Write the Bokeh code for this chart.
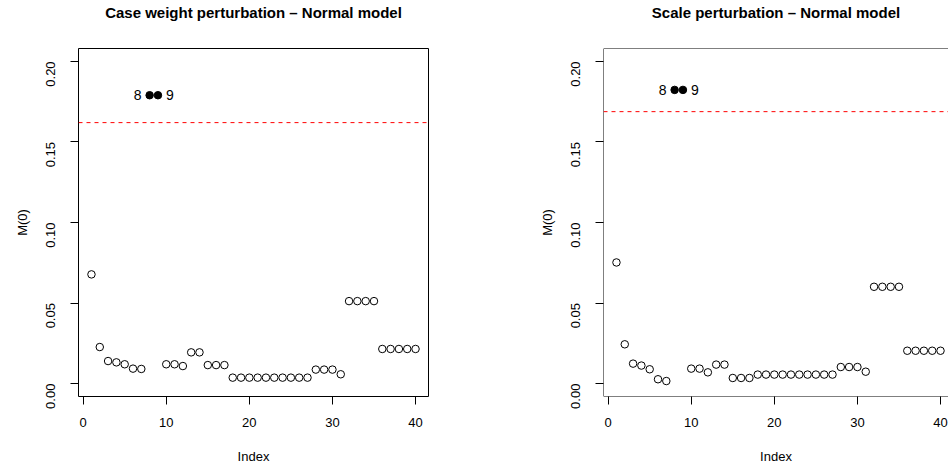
import math
from bokeh.plotting import figure
from bokeh.layouts import row
from bokeh.models import Span, Range1d, FixedTicker, NumeralTickFormatter, ColumnDataSource
from bokeh.core.properties import value
from bokeh.embed import file_html
from bokeh.resources import INLINE

# ---- data ----
index = list(range(1, 41))
case_weight = [0.0678, 0.0227, 0.0140, 0.0132, 0.0120, 0.0093, 0.0091, 0.179, 0.179, 0.0120,
               0.0120, 0.0109, 0.0194, 0.0194, 0.0115, 0.0115, 0.0115, 0.0037, 0.0037, 0.0037,
               0.0037, 0.0037, 0.0037, 0.0037, 0.0037, 0.0037, 0.0037, 0.0087, 0.0087, 0.0087,
               0.0058, 0.0512, 0.0512, 0.0512, 0.0512, 0.0215, 0.0215, 0.0215, 0.0215, 0.0215]
scale_pert = [0.0752, 0.0244, 0.0124, 0.0112, 0.0089, 0.0027, 0.0016, 0.1823, 0.1823, 0.0093,
              0.0093, 0.0070, 0.0118, 0.0118, 0.0035, 0.0035, 0.0035, 0.0056, 0.0056, 0.0056,
              0.0056, 0.0056, 0.0056, 0.0056, 0.0056, 0.0056, 0.0056, 0.0103, 0.0103, 0.0103,
              0.0074, 0.0601, 0.0601, 0.0601, 0.0601, 0.0204, 0.0204, 0.0204, 0.0204, 0.0204]
highlight_idx = [8, 9]
highlight_labels = ["8", "9"]
cutoff_case = 0.162
cutoff_scale = 0.1688
titles = ["Case weight perturbation \u2013 Normal model", "Scale perturbation \u2013 Normal model"]
x_ticks = [0, 10, 20, 30, 40]
y_ticks = [0.0, 0.05, 0.10, 0.15, 0.20]

FONT = "Liberation Sans"
Y0, Y1 = -0.008, 0.208


def make_panel(vals, cutoff, title, width, mbl, mbr, x_end, title_offset=0, box_outline=True):
    p = figure(width=width, height=470, output_backend="svg", toolbar_location=None,
               x_range=Range1d(-0.56, x_end), y_range=Range1d(Y0, Y1),
               min_border_left=mbl, min_border_right=mbr, min_border_top=48, min_border_bottom=74)
    # trailing blank line lifts the title toward the top of the page, as in the reference
    p.title.text = title + "\n "
    p.title.align = "center"
    p.title.offset = title_offset
    p.title.text_font = FONT
    p.title.text_font_size = "15px"
    p.title.text_font_style = "bold"
    p.title.text_color = "black"
    p.title.text_line_height = 1.6
    p.title.standoff = 0
    p.grid.visible = False
    p.background_fill_color = "white"
    p.border_fill_color = "white"
    if box_outline:
        p.outline_line_color = "black"
        p.outline_line_width = 1
    else:
        p.outline_line_color = None
        p.add_layout(Span(location=-0.56, dimension="height", line_color="black", line_width=1))
        p.add_layout(Span(location=Y0, dimension="width", line_color="black", line_width=1))
        p.add_layout(Span(location=Y1, dimension="width", line_color="black", line_width=1))

    for ax in (p.xaxis[0], p.yaxis[0]):
        ax.axis_line_color = None
        ax.major_tick_line_color = "black"
        ax.major_tick_out = 8
        ax.major_tick_in = 0
        ax.minor_tick_line_color = None
        ax.major_label_text_font = FONT
        ax.major_label_text_font_size = "13px"
        ax.major_label_text_color = "black"
        ax.axis_label_text_font = FONT
        ax.axis_label_text_font_size = "13px"
        ax.axis_label_text_font_style = "normal"
        ax.axis_label_text_color = "black"

    p.xaxis.ticker = FixedTicker(ticks=x_ticks)
    p.xaxis.axis_label = "Index"
    p.xaxis.major_label_standoff = 13
    p.xaxis.axis_label_standoff = 19

    p.yaxis.ticker = FixedTicker(ticks=y_ticks)
    p.yaxis.formatter = NumeralTickFormatter(format="0.00")
    p.yaxis.major_label_orientation = math.pi / 2
    p.yaxis.axis_label = "M(0)"
    p.yaxis.major_label_standoff = 20
    p.yaxis.axis_label_standoff = 9

    p.add_layout(Span(location=cutoff, dimension="width", line_color="red",
                      line_width=1, line_dash="4 4"))

    norm_x = [i for i in index if i not in highlight_idx]
    norm_y = [v for i, v in zip(index, vals) if i not in highlight_idx]
    p.scatter(norm_x, norm_y, marker="circle", size=7.5, fill_color=None,
              line_color="black", line_width=1)
    hy = [vals[i - 1] for i in highlight_idx]
    p.scatter(highlight_idx, hy, marker="circle", size=7.5, fill_color="black",
              line_color="black")
    src_l = ColumnDataSource(dict(x=[highlight_idx[0]], y=[hy[0]], t=[highlight_labels[0]]))
    src_r = ColumnDataSource(dict(x=[highlight_idx[1]], y=[hy[1]], t=[highlight_labels[1]]))
    p.text(x="x", y="y", text="t", source=src_l, x_offset=-8, text_align="right",
           text_baseline="middle", text_font=value(FONT), text_font_size="14px", text_color="black")
    p.text(x="x", y="y", text="t", source=src_r, x_offset=8, text_align="left",
           text_baseline="middle", text_font=value(FONT), text_font_size="14px", text_color="black")
    return p


p1 = make_panel(case_weight, cutoff_case, titles[0], 448, 78, 20, 41.56)
p2 = make_panel(scale_pert, cutoff_scale, titles[1], 500, 155, 0, 40.96, title_offset=2,
                box_outline=False)

layout = row(p1, p2)
open("out.html", "w").write(file_html(layout, INLINE))
